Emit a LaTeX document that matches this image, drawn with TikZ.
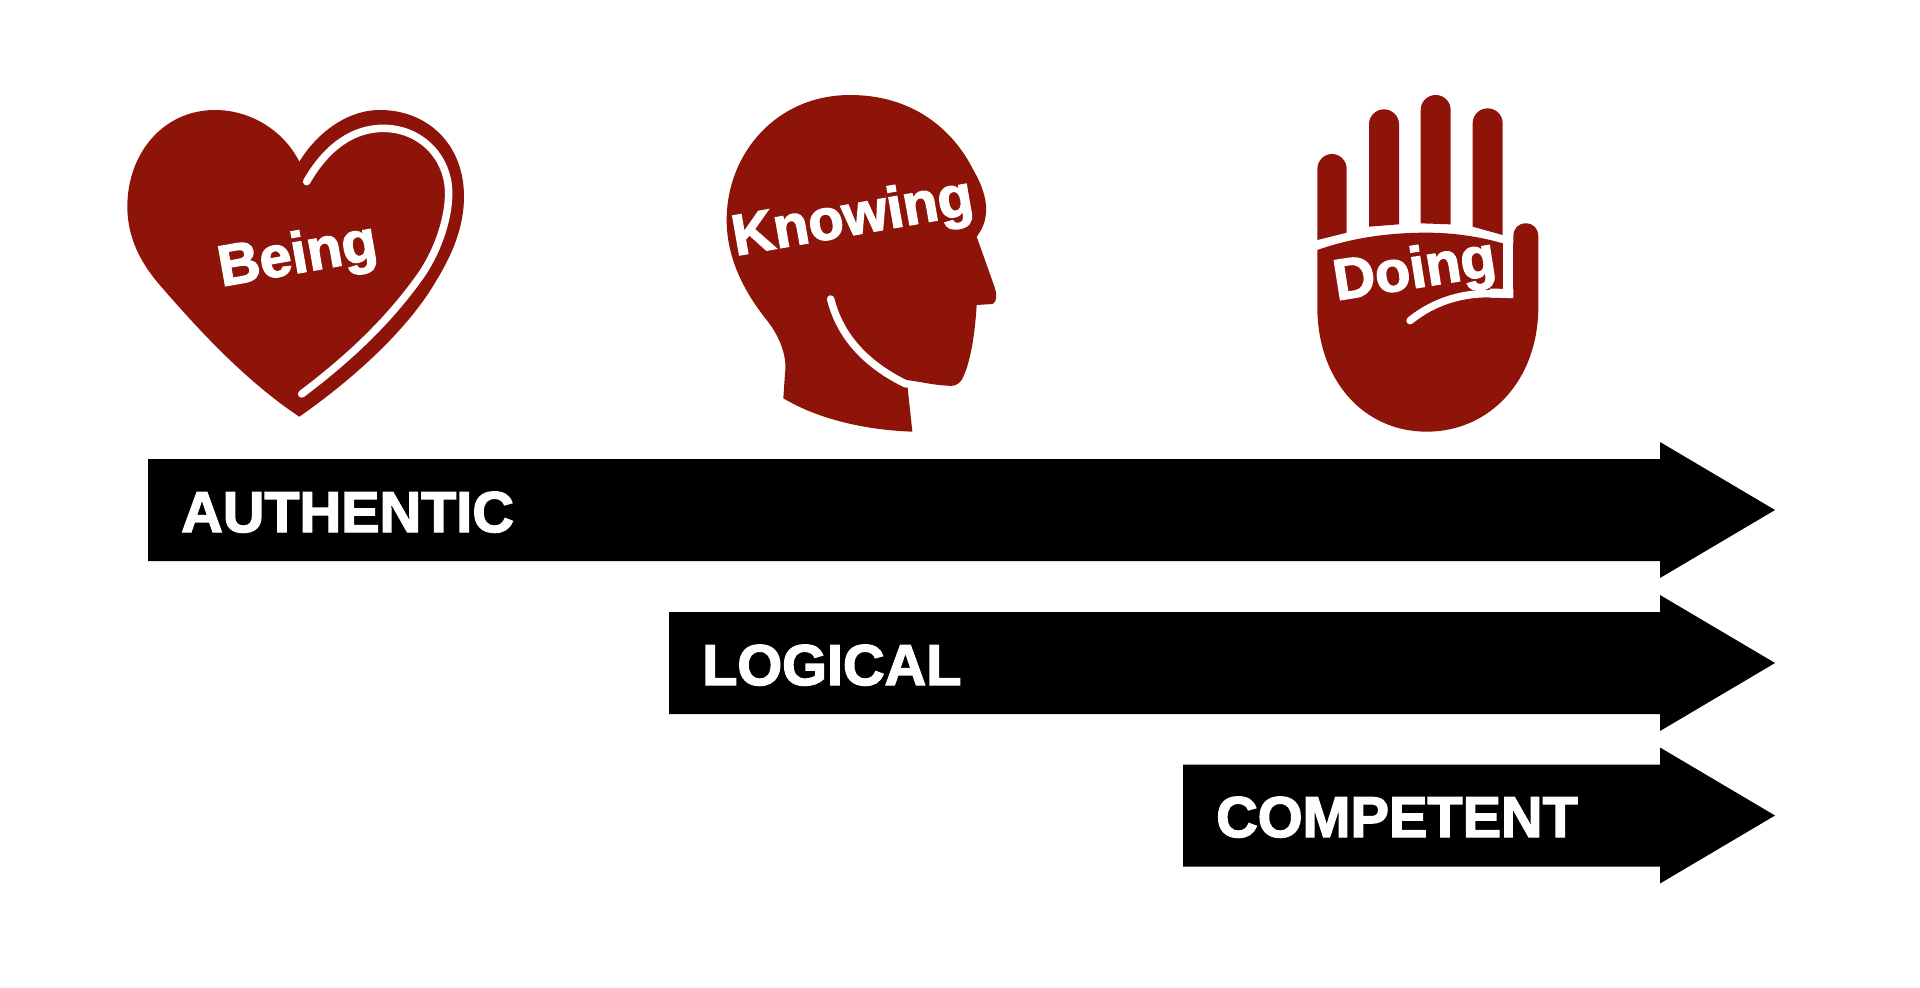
\documentclass[tikz,border=0pt]{standalone}
\usepackage{fontspec}
\setmainfont{Liberation Sans}
\definecolor{iconred}{HTML}{8E140A}
\tikzset{
  icon/.style={fill=iconred,draw=none},
  crease/.style={draw=white,line width=7.5pt,line cap=round,line join=round},
  iconlabel/.style={text=white,font=\fontsize{57.6}{60}\selectfont\bfseries\addfontfeature{FakeBold=2.5},inner sep=0pt},
  barlabel/.style={text=white,font=\fontsize{57.6}{60}\selectfont\bfseries\addfontfeature{FakeBold=2.5},inner sep=0pt,anchor=base west},
  bar/.style={fill=black,draw=none},
  zoomed/.style={x=0.33333pt,y=-0.33333pt}
}
% finger: x left, x right, top, bottom-left y, bottom-right y (zoom units; radius 45)
\newcommand{\handfinger}[5]{%
  \fill[icon] (#1,#4) -- (#1,{#3+45}) .. controls (#1,{#3+20}) and ({#1+20},#3) .. ({(#1+#2)/2},#3)
    .. controls ({#2-20},#3) and (#2,{#3+20}) .. (#2,{#3+45}) -- (#2,#5) -- cycle;}
\newcommand{\barshape}[2]{% x left, centre y
  \fill[bar] (#1,{#2-51}) -- (1660,{#2-51}) -- (1660,{#2-68}) -- (1775,#2) -- (1660,{#2+68}) -- (1660,{#2+51}) -- (#1,{#2+51}) -- cycle;}
\begin{document}
\begin{tikzpicture}[x=1pt,y=-1pt]
\useasboundingbox (0,0) rectangle (1920,988);
\fill[white] (0,0) rectangle (1920,988);
% heart
\begin{scope}[shift={(100,80)},zoomed]
\fill[icon] (598,245) .. controls (550,150) and (450,90) .. (345,90)
  .. controls (190,90) and (82,220) .. (82,380)
  .. controls (82,470) and (120,545) .. (175,610)
  .. controls (300,755) and (440,905) .. (598,1010)
  .. controls (770,890) and (930,740) .. (1010,600)
  .. controls (1065,510) and (1092,430) .. (1092,350)
  .. controls (1092,190) and (980,90) .. (840,90)
  .. controls (740,90) and (650,160) .. (598,245) -- cycle;
\draw[crease] (620,305) .. controls (680,200) and (760,145) .. (850,145)
  .. controls (960,145) and (1046,230) .. (1046,340)
  .. controls (1046,420) and (1010,520) .. (960,590)
  .. controls (860,730) and (740,840) .. (605,942);
\end{scope}
\node[iconlabel,rotate=10] (being) at (298,258) {Being};
% head
\begin{scope}[shift={(700,80)},zoomed]
\fill[icon] (450,45) .. controls (230,45) and (80,220) .. (80,420)
  .. controls (80,520) and (120,620) .. (200,720)
  .. controls (240,770) and (262,830) .. (255,880)
  -- (250,955) .. controls (360,1020) and (500,1050) .. (637,1055)
  -- (622,915) -- (620,900)
  .. controls (660,905) and (700,915) .. (740,917)
  .. controls (760,920) and (775,915) .. (785,900)
  .. controls (812,850) and (825,760) .. (830,675)
  -- (878,672) .. controls (892,665) and (890,640) .. (885,625)
  -- (830,470) .. controls (845,450) and (855,430) .. (858,400)
  .. controls (862,370) and (850,320) .. (820,270)
  .. controls (760,150) and (640,45) .. (450,45) -- cycle;
\draw[crease] (392,657) .. controls (420,770) and (500,855) .. (618,912);
\end{scope}
\node[iconlabel,rotate=10] (knowing) at (853,220) {Knowing};
% hand
\begin{scope}[shift={(1290,80)},zoomed]
\handfinger{82}{170}{222}{480}{458}
\handfinger{237}{327}{88}{440}{433}
\handfinger{392}{482}{45}{430}{433}
\handfinger{548}{638}{85}{440}{465}
\fill[icon] (82,510) .. controls (190,472) and (300,458) .. (410,458)
  .. controls (490,458) and (570,470) .. (638,490)
  -- (670,490) -- (670,470) .. controls (670,445) and (685,430) .. (707,430)
  .. controls (730,430) and (745,445) .. (745,470)
  -- (745,680) .. controls (745,900) and (600,1055) .. (410,1055)
  .. controls (220,1055) and (82,900) .. (82,680) -- cycle;
\draw[crease,line width=10pt,line cap=butt] (654,480) -- (654,654);
\draw[crease,line cap=butt,line width=9pt] (670,641) -- (600,639);
\draw[crease] (620,642) .. controls (520,635) and (430,665) .. (360,722);
\end{scope}
\node[iconlabel,rotate=9] (doing) at (1415,273) {Doing};
% bars
\barshape{148}{510}
\barshape{669}{663}
\barshape{1183}{815.5}
\node[barlabel] (authentic) at (181,532) {AUTHENTIC};
\node[barlabel] (logical) at (702,685) {LOGICAL};
\node[barlabel] (competent) at (1216,837) {COMPETENT};
\end{tikzpicture}
\end{document}
